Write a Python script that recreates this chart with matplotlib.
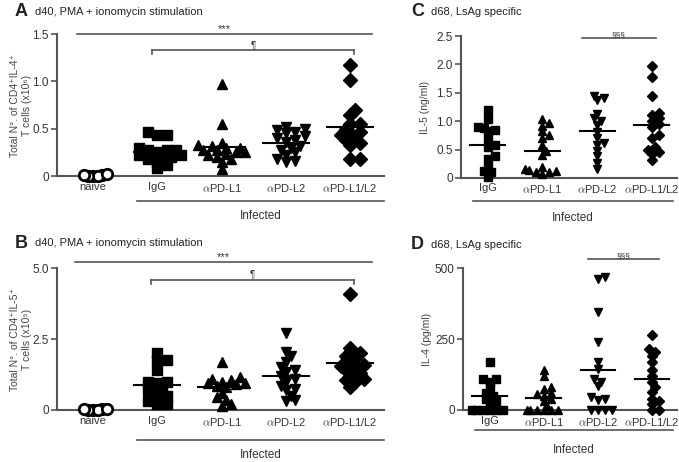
import numpy as np
import matplotlib
matplotlib.use('Agg')
import matplotlib.pyplot as plt
import matplotlib.transforms as mtransforms

plt.rcParams['font.family'] = ['Liberation Sans', 'DejaVu Sans']

# panel A: CD4+IL-4+ (x10^6)
a_naive = [0.0, 0.01, 0.0, 0.02, 0.0, 0.01]
a_igg = [0.47, 0.43, 0.43, 0.30, 0.28, 0.27, 0.25, 0.22, 0.20, 0.20, 0.18, 0.15, 0.12, 0.08, 0.27, 0.22]
a_l1 = [0.97, 0.55, 0.33, 0.32, 0.30, 0.28, 0.27, 0.25, 0.23, 0.22, 0.20, 0.18, 0.15, 0.07, 0.25, 0.30, 0.35]
a_l2 = [0.52, 0.50, 0.49, 0.47, 0.45, 0.42, 0.40, 0.38, 0.36, 0.32, 0.30, 0.28, 0.25, 0.22, 0.18, 0.15, 0.16]
a_l12 = [1.17, 1.02, 0.70, 0.65, 0.55, 0.50, 0.47, 0.45, 0.43, 0.40, 0.38, 0.35, 0.33, 0.18, 0.18, 0.55]

# panel B: CD4+IL-5+ (x10^5)
b_naive = [0.0, 0.02, 0.0, 0.05, 0.0, 0.02]
b_igg = [2.0, 1.75, 1.75, 1.4, 1.0, 1.0, 0.95, 0.8, 0.7, 0.6, 0.5, 0.45, 0.35, 0.3, 0.2, 0.2]
b_l1 = [1.7, 1.15, 1.1, 1.05, 1.0, 0.95, 0.95, 0.9, 0.85, 0.8, 0.6, 0.45, 0.35, 0.2, 0.15]
b_l2 = [2.7, 2.05, 1.9, 1.7, 1.5, 1.4, 1.35, 1.2, 1.1, 1.0, 0.85, 0.75, 0.7, 0.5, 0.35, 0.3]
b_l12 = [4.1, 2.2, 2.0, 1.9, 1.85, 1.7, 1.6, 1.55, 1.5, 1.4, 1.3, 1.2, 1.1, 1.05, 0.8, 1.0]

# panel C: IL-5 (ng/ml)
c_igg = [1.2, 1.03, 0.9, 0.88, 0.85, 0.82, 0.68, 0.58, 0.55, 0.38, 0.33, 0.2, 0.12, 0.1, 0.02]
c_l1 = [1.03, 0.97, 0.92, 0.82, 0.75, 0.7, 0.58, 0.48, 0.4, 0.2, 0.15, 0.13, 0.12, 0.1, 0.1, 0.07]
c_l2 = [1.45, 1.4, 1.37, 1.12, 1.05, 1.0, 0.93, 0.8, 0.7, 0.62, 0.58, 0.48, 0.38, 0.27, 0.15]
c_l12 = [1.97, 1.78, 1.45, 1.15, 1.1, 1.05, 1.0, 0.95, 0.9, 0.75, 0.7, 0.55, 0.5, 0.45, 0.42, 0.32]

# panel D: IL-4 (pg/ml)
d_igg = [170, 110, 108, 100, 80, 60, 50, 40, 30, 25, 0, 0, 0, 0, 0, 0]
d_l1 = [140, 120, 80, 75, 60, 55, 50, 40, 30, 15, 0, 0, 0, 0, 0, 0]
d_l2 = [470, 460, 345, 240, 170, 145, 110, 100, 85, 45, 40, 35, 0, 0, 0, 0]
d_l12 = [265, 215, 205, 190, 170, 140, 120, 100, 80, 65, 40, 30, 20, 0, 0]

cats_ab = ['naive', 'IgG', r'$\alpha$PD-L1', r'$\alpha$PD-L2', r'$\alpha$PD-L1/L2']
cats_cd = ['IgG', r'$\alpha$PD-L1', r'$\alpha$PD-L2', r'$\alpha$PD-L1/L2']

gray = '#555555'
tcol = '#333333'


def swarm(vals, ppu, ppc, d, gap=0.6):
    # simple beeswarm: offsets (in category units) so markers don't pile up
    vals = np.asarray(vals, float)
    offs = np.zeros(len(vals))
    placed = []
    for i in np.argsort(vals):
        y = vals[i] * ppu
        x = 0.0
        for k in [0, 1, -1, 2, -2, 3, -3, 4, -4, 5, -5]:
            x = k * d * 0.45
            if all((x - px) ** 2 + (y - py) ** 2 >= (d * gap) ** 2 for px, py in placed):
                break
        placed.append((x, y))
        offs[i] = x / ppc
    return offs


def panel(rect, groups, markers, ylim, yticks, yticklabels, ylabel, labx, cats, ms, mean_w):
    ax = fig.add_axes(rect)
    ax.set_xlim(*xl[len(groups)])
    ax.set_ylim(*ylim)
    bb = ax.get_position()
    ppu = bb.height * fig.get_figheight() * fig.dpi / (ylim[1] - ylim[0])
    ppc = bb.width * fig.get_figwidth() * fig.dpi / (xl[len(groups)][1] - xl[len(groups)][0])
    d = ms * fig.dpi / 72
    for i, (vals, m) in enumerate(zip(groups, markers)):
        if m == 'o':
            xs = i + swarm(vals, ppu, ppc, d, gap=0.44)
            ax.plot(xs, vals, 'o', ms=ms, mfc='white', mec='black', mew=2, ls='none', clip_on=False, zorder=3)
        else:
            xs = i + swarm(vals, ppu, ppc, d)
            ax.plot(xs, vals, m, ms=ms, color='black', ls='none', clip_on=False, zorder=3)
            mu = np.mean(vals)
            ax.plot([i - mean_w, i + mean_w], [mu, mu], color='black', lw=1.5, zorder=4)
    for s in ['top', 'right']:
        ax.spines[s].set_visible(False)
    for s in ['left', 'bottom']:
        ax.spines[s].set_color(gray)
        ax.spines[s].set_linewidth(1.5)
    ax.set_yticks(yticks)
    ax.set_yticklabels(yticklabels)
    ax.set_xticks(range(len(cats)))
    ax.set_xticklabels(cats, fontsize=8, color=tcol)
    for t in ax.get_xticklabels():
        t.set_math_fontfamily('cm')
    ax.tick_params(axis='x', length=0, pad=4)
    ax.tick_params(axis='y', length=4, width=1.2, color=gray, labelsize=8.5, labelcolor=tcol, pad=2)
    ax.set_ylabel(ylabel, fontsize=7.5, color='#444444', linespacing=1.15, va='center')
    ax.yaxis.set_label_coords(labx, 0.5)
    return ax


def bracket(ax, x0, x1, y, label, ticks=False, fs=8):
    ax.plot([x0, x1], [y, y], color=gray, lw=1.2, clip_on=False)
    if ticks:
        h = (ax.get_ylim()[1] - ax.get_ylim()[0]) * 0.025
        ax.plot([x0, x0], [y, y - h], color=gray, lw=1.2, clip_on=False)
        ax.plot([x1, x1], [y, y - h], color=gray, lw=1.2, clip_on=False)
    ax.text((x0 + x1) / 2, y, label, ha='center', va='bottom', fontsize=fs, color=tcol)


def infected(ax, x0, x1, yline, ytext):
    tr = mtransforms.blended_transform_factory(ax.transData, ax.transAxes)
    ax.plot([x0, x1], [yline, yline], color=gray, lw=1.2, transform=tr, clip_on=False)
    ax.text((x0 + x1) / 2, ytext, 'Infected', transform=tr, ha='center', va='center', fontsize=8.5, color=tcol)


fig = plt.figure(figsize=(6.79, 4.62), dpi=100)
xl = {5: (-0.56, 4.53), 4: (-0.49, 3.46)}

axA = panel([0.084, 0.619, 0.482, 0.307], [a_naive, a_igg, a_l1, a_l2, a_l12], ['o', 's', '^', 'v', 'D'],
            (0, 1.5), [0, 0.5, 1.0, 1.5], ['0', '0.5', '1.0', '1.5'],
            'Total N°. of CD4⁺IL-4⁺\nT cells (x10⁶)', -0.11, cats_ab, 7.5, 0.36)
bracket(axA, -0.25, 4.34, 1.5, '***')
bracket(axA, 0.92, 4.06, 1.33, '¶', ticks=True, fs=7)
infected(axA, 0.68, 4.53, -0.176, -0.28)

axB = panel([0.084, 0.1126, 0.482, 0.307], [b_naive, b_igg, b_l1, b_l2, b_l12], ['o', 's', '^', 'v', 'D'],
            (0, 5.0), [0, 2.5, 5.0], ['0', '2.5', '5.0'],
            'Total N°. of CD4⁺IL-5⁺\nT cells (x10⁵)', -0.11, cats_ab, 7.5, 0.36)
bracket(axB, -0.28, 4.34, 5.21, '***')
bracket(axB, 0.9, 4.06, 4.58, '¶', ticks=True, fs=7)
infected(axB, 0.68, 4.53, -0.215, -0.317)

axC = panel([0.679, 0.615, 0.318, 0.307], [c_igg, c_l1, c_l2, c_l12], ['s', '^', 'v', 'D'],
            (0, 2.5), [0, 0.5, 1.0, 1.5, 2.0, 2.5], ['0', '0.5', '1.0', '1.5', '2.0', '2.5'],
            'IL-5 (ng/ml)', -0.167, cats_cd, 5.5, 0.32)
bracket(axC, 1.72, 3.07, 2.46, '§§§', fs=6)
infected(axC, -0.27, 3.38, -0.162, -0.28)

axD = panel([0.682, 0.1126, 0.315, 0.307], [d_igg, d_l1, d_l2, d_l12], ['s', '^', 'v', 'D'],
            (0, 500), [0, 250, 500], ['0', '250', '500'],
            'IL-4 (pg/ml)', -0.168, cats_cd, 5.5, 0.32)
bracket(axD, 1.81, 3.13, 532, '§§§', fs=6)
infected(axD, -0.27, 3.38, -0.14, -0.28)

# panel letters and titles
for x, y, letter, title in [(0.022, 0.975, 'A', 'd40, PMA + ionomycin stimulation'),
                            (0.022, 0.473, 'B', 'd40, PMA + ionomycin stimulation'),
                            (0.605, 0.975, 'C', 'd68, LsAg specific'),
                            (0.605, 0.470, 'D', 'd68, LsAg specific')]:
    fig.text(x, y, letter, fontsize=13, fontweight='bold', ha='left', va='center', color='#222222')
    fig.text(x + 0.03, y, title, fontsize=8, ha='left', va='center', color='#222222')

fig.savefig('out.png', dpi=100)
